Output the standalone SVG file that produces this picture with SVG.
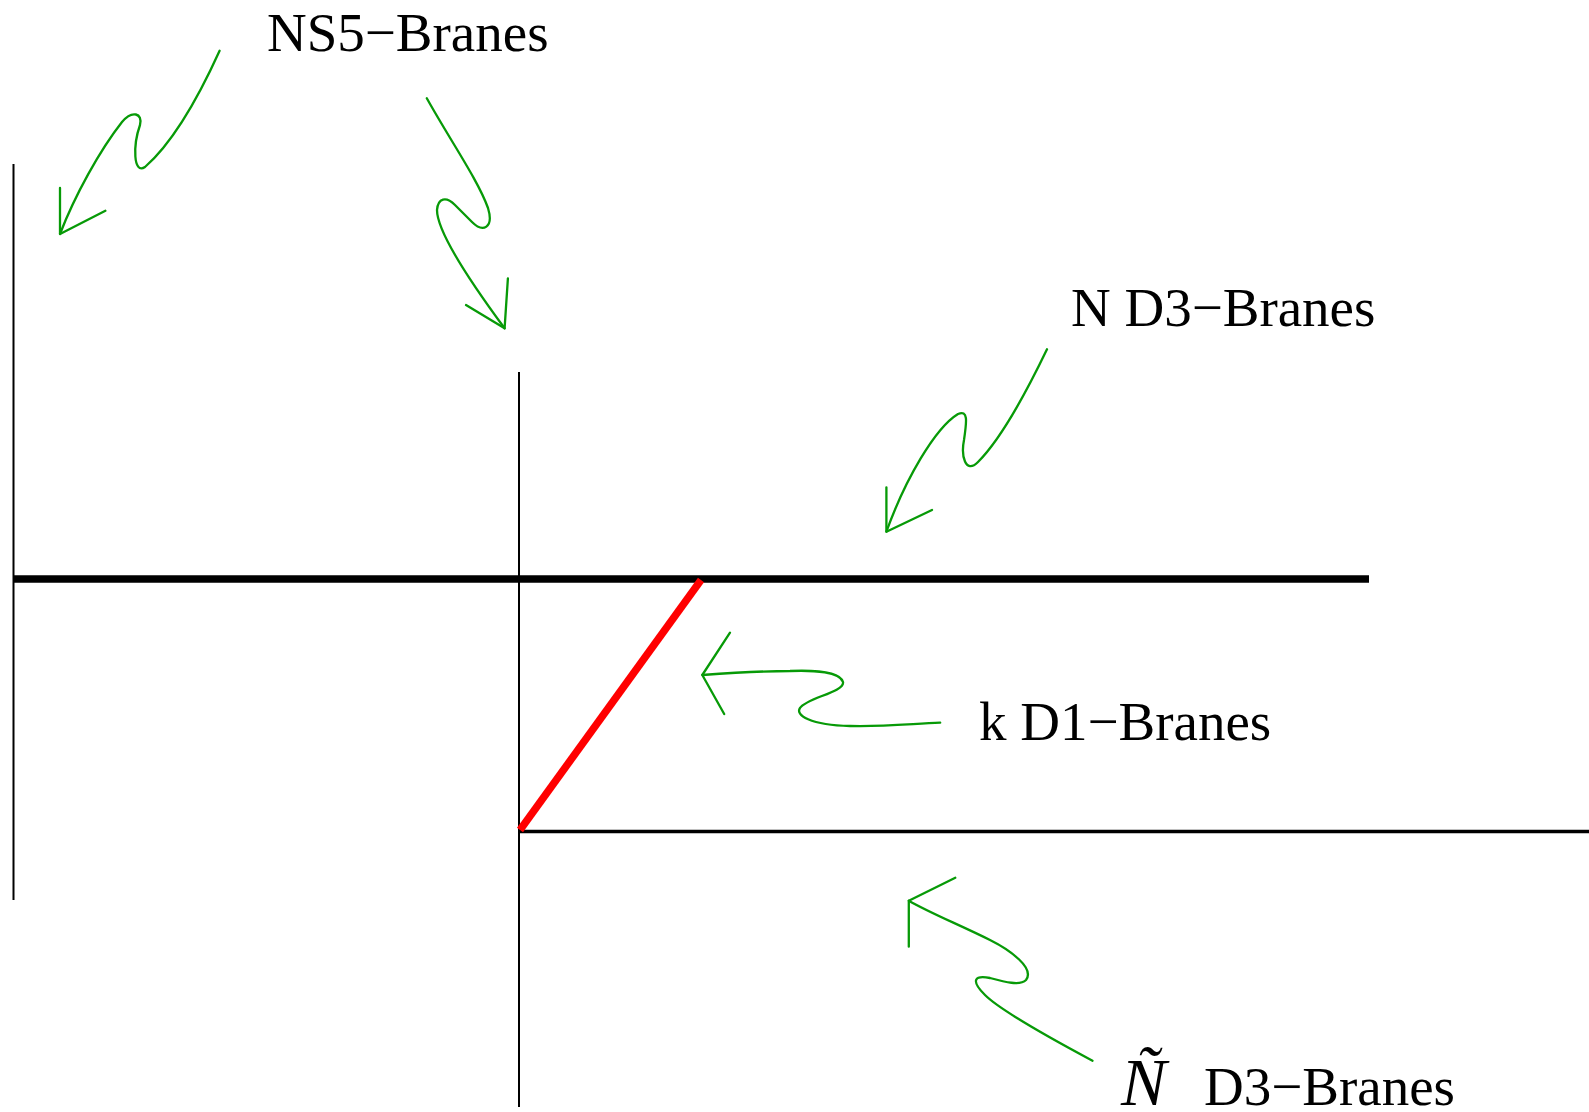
<svg xmlns="http://www.w3.org/2000/svg" width="1589" height="1112" viewBox="0 0 1589 1112">
<style>
.lbl{font-family:"Liberation Serif","Times New Roman",serif;font-size:55px;fill:#000}
.brane{stroke:#000;fill:none}
.g{stroke:#079a07;stroke-width:2.3;fill:none;stroke-linecap:round;stroke-linejoin:round}
</style>
<rect width="1589" height="1112" fill="#fff"/>
<g id="ns5-left"><line class="brane" x1="13.5" y1="164" x2="13.5" y2="900" stroke-width="2"/></g>
<g id="ns5-right"><line class="brane" x1="519" y1="372" x2="519" y2="1107" stroke-width="2"/></g>
<g id="d3-N"><line class="brane" x1="13" y1="579" x2="1369" y2="579" stroke-width="7.5"/></g>
<g id="d3-Ntilde"><line class="brane" x1="519" y1="831.5" x2="1589" y2="831.5" stroke-width="3.5"/></g>
<g id="d1-k"><line x1="520" y1="830" x2="701" y2="580" stroke="#ff0000" stroke-width="7.5"/></g>
<g id="label-ns5"><text class="lbl" x="267" y="51">NS5−Branes</text></g>
<g id="label-nd3"><text class="lbl" x="1071" y="326">N D3−Branes</text></g>
<g id="label-kd1"><text class="lbl" x="979" y="740">k D1−Branes</text></g>
<g id="label-ntd3"><text class="lbl" x="1121" y="1105" style="font-size:68px;font-style:italic">Ñ</text><text class="lbl" x="1204" y="1105">D3−Branes</text></g>
<g id="connectors">
<path class="g" d="M219.6,50.7 C195,105 170,145 145,167 C133,175 133,145 140,125 C143,113 132,110 122,122 C100,150 75,195 60,234"/>
<path class="g" d="M60,188 L60,234 L105.4,210.7"/>
<path class="g" d="M426.8,98.3 C450,140 478,180 488,208 C494,228 483,233 472,222 L455,205 C446,196 438,198 437,210 C437,235 480,295 504.6,328.3"/>
<path class="g" d="M507.9,278.3 L504.6,328.3 L466,305"/>
<path class="g" d="M1047,349.3 C1025,395 1000,440 978,462 C965,475 961,455 964,440 C967,420 968,410 958,414 C935,428 905,480 886.4,531.7"/>
<path class="g" d="M886.4,487.3 L886.4,531.7 L932,510"/>
<path class="g" d="M940.2,722.7 C910,724 880,727 850,726 C810,725 795,715 800,708 C806,698 845,692 843,682 C840,672 815,670 790,671 C760,671 730,673 702.3,675"/>
<path class="g" d="M730,632.7 L702.3,675 L724.2,714"/>
<path class="g" d="M1092.5,1060.7 C1050,1038 1000,1010 985,995 C970,980 975,975 990,978 C1005,982 1020,986 1026,980 C1035,968 1010,950 990,940 C960,925 930,913 908.8,900.7"/>
<path class="g" d="M955.3,877.7 L908.8,900.7 L908.8,946.7"/>
</g>
</svg>
